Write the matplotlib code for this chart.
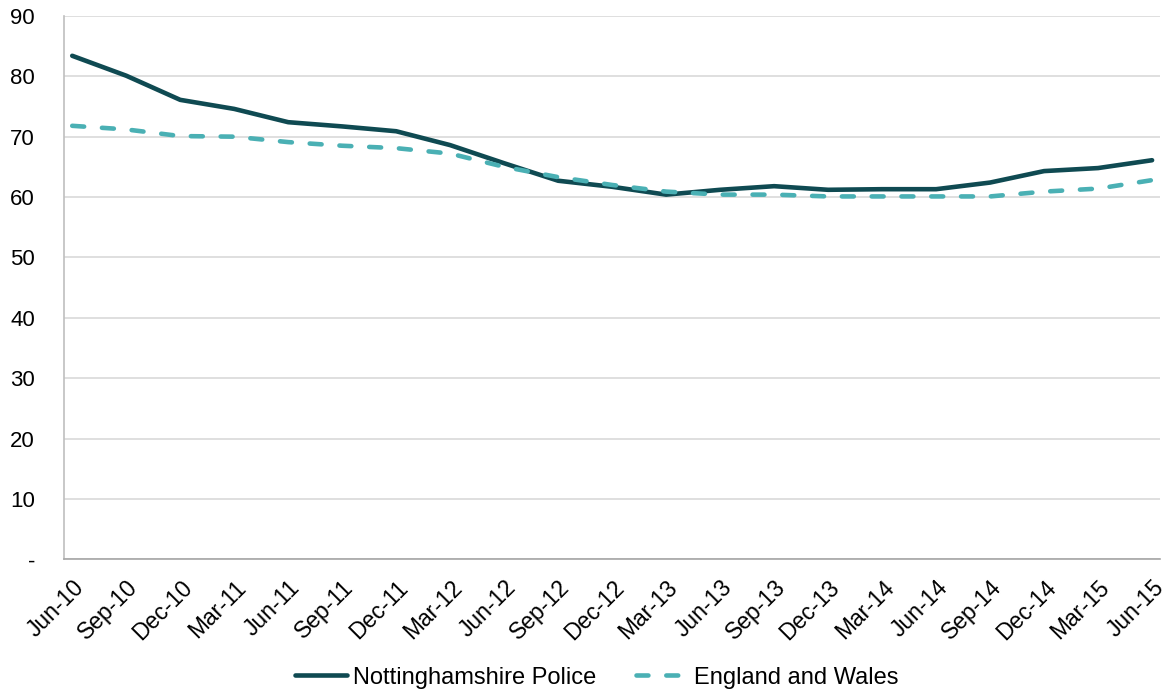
import matplotlib
matplotlib.use("Agg")
import matplotlib.pyplot as plt

plt.rcParams['font.family'] = ['Liberation Sans', 'DejaVu Sans']

quarters = ["Jun-10", "Sep-10", "Dec-10", "Mar-11", "Jun-11", "Sep-11", "Dec-11",
            "Mar-12", "Jun-12", "Sep-12", "Dec-12", "Mar-13", "Jun-13", "Sep-13",
            "Dec-13", "Mar-14", "Jun-14", "Sep-14", "Dec-14", "Mar-15", "Jun-15"]
notts = [83.4, 80.1, 76.1, 74.6, 72.4, 71.7, 70.9, 68.6, 65.6, 62.7, 61.7,
         60.4, 61.2, 61.8, 61.2, 61.3, 61.3, 62.4, 64.3, 64.8, 66.1]
england_wales = [71.8, 71.2, 70.1, 70.0, 69.1, 68.5, 68.1, 67.2, 65.0, 63.3, 62.0,
                 60.9, 60.4, 60.4, 60.1, 60.1, 60.1, 60.1, 60.9, 61.4, 62.8]
y_ticks = [0, 10, 20, 30, 40, 50, 60, 70, 80, 90]
y_labels = ["-", "10", "20", "30", "40", "50", "60", "70", "80", "90"]

dark = "#0F4A52"
light = "#4AB0B4"

fig = plt.figure(figsize=(11.66, 6.93), dpi=100)
ax = fig.add_axes([0.055, 0.193, 0.94, 0.784])

x = list(range(len(quarters)))
ax.plot(x, notts, color=dark, lw=3.3, solid_capstyle='round',
        label="Nottinghamshire Police", zorder=3)
ax.plot(x, england_wales, color=light, lw=3.3, dashes=(2.6, 3.9),
        dash_capstyle='round', label="England and Wales", zorder=3)

ax.set_ylim(0, 90)
ax.set_xlim(-0.15, len(quarters) - 1 + 0.15)
ax.set_yticks(y_ticks)
ax.set_yticklabels(y_labels, fontsize=16)
ax.set_xticks(x)
ax.set_xticklabels(quarters, rotation=45, ha='right', rotation_mode='anchor',
                   fontsize=16.5)
ax.tick_params(axis='x', length=0, pad=12)
ax.tick_params(axis='y', length=0, pad=21)

ax.grid(axis='y', color='#D9D9D9', lw=1.2)
ax.set_axisbelow(True)
for s in ['top', 'right']:
    ax.spines[s].set_visible(False)
ax.spines['left'].set_color('#BFBFBF')
ax.spines['bottom'].set_color('#A6A6A6')
ax.spines['left'].set_linewidth(1.2)
ax.spines['bottom'].set_linewidth(1.2)

fig.legend(loc='center', bbox_to_anchor=(0.512, 0.022), ncol=2,
           frameon=False, fontsize=17, handlelength=2.2, columnspacing=1.7,
           handletextpad=0.25)

fig.savefig("out.png", dpi=100)
